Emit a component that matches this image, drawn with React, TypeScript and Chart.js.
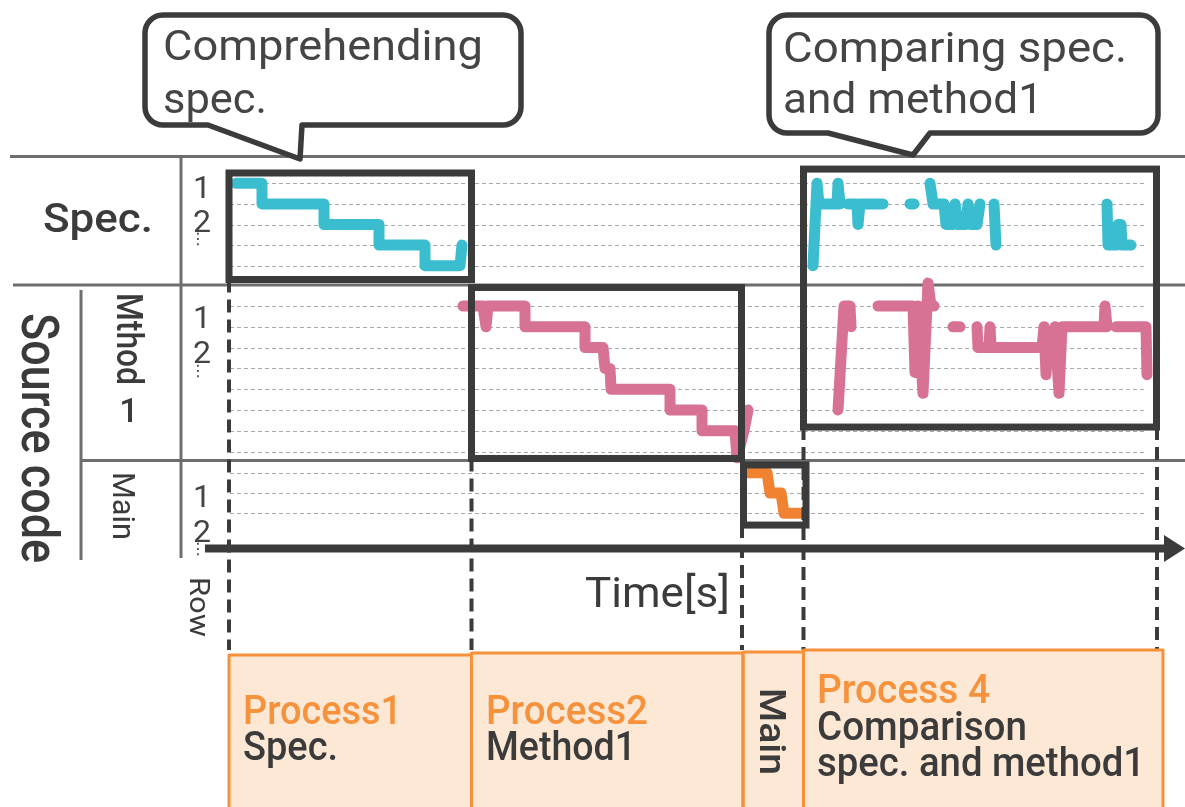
import React, { useEffect, useRef } from "react";
import { Chart, registerables } from "chart.js";

Chart.register(...registerables);

// ---------------- data (time in seconds, row number; null = no reading) ----------------
// Spec. document rows read over time
const specTime = [
  3.5, 16.5, 16.5, 47.5, 47.5, 75, 75, 98, 98, 115.5, 116.5,
  200,
  292, 294, 295, 304, 304.5, 305.5,
  307.5,
  309.5, 314, 314.5, 315.5, 327,
  334,
  340.5, 342.5,
  346,
  350.5, 352, 357.5, 358.5, 362, 363, 364.5, 368.5, 369.5, 371, 374, 375.5,
  379,
  382.5, 383.5,
  410,
  439, 439.5, 444, 444.5, 446, 446.5, 451,
];
const specRow = [
  1, 1, 2, 2, 3, 3, 4, 4, 5, 5, 4,
  null,
  5, 1, 2, 2, 1, 2,
  null,
  2, 2, 3, 2, 2,
  null,
  2, 2,
  null,
  1, 2, 2, 3, 3, 2, 3, 3, 2, 3, 3, 2,
  null,
  2, 4,
  null,
  2, 4, 4, 3, 3, 4, 4,
];

// Method1 source rows read over time
const methodTime = [
  117, 127, 128.5, 129.5, 148, 148, 178, 178, 187, 188, 190.5, 191, 220.5, 220.5, 236.5, 236.5, 253, 254, 257.5, 259.5,
  280,
  304.5, 307.5, 310.5, 311,
  318,
  324.5, 342, 343, 344.5, 347, 349.5, 351, 352.5,
  357,
  362, 365.5,
  370,
  374, 374.5, 380, 380.5, 381, 406.5, 407.5, 408.5, 409.5, 412, 413, 415, 416.5, 437.5, 438, 439,
  441,
  443.5, 458.5, 459,
];
const methodRow = [
  1, 1, 2, 1, 1, 2, 2, 3, 3, 4, 4, 5, 5, 6, 6, 7, 7, 8.3, 7, 6,
  null,
  6, 1, 1, 2,
  null,
  1, 1, 4.2, 1, 5.2, -0.1, 1, 1,
  null,
  2, 2,
  null,
  2, 3, 3, 2, 3, 3, 2, 4.3, 3, 3, 2, 5.2, 2, 2, 1, 2,
  null,
  2, 2, 4.3,
];

// Main source rows read over time
const mainTime = [259, 269, 270.5, 276, 277.5, 285.5];
const mainRow = [1, 1, 2, 2, 3, 3];

// row tick labels for each panel
const rowTickLabels = ["1", "2", "⋮"];
// number of dashed row lines per panel
const specRowCount = 5;
const methodRowCount = 8;
const mainRowCount = 3;

// process boundaries on the time axis (seconds)
const phaseBounds = [0, 121.25, 256.5, 287.25, 464];
const processTitles = ["Process1", "Process2", "", "Process 4"];
const processTexts = [["Spec."], ["Method1"], [], ["Comparison", "spec. and method1"]];

// ---------------- layout & style ----------------
const W = 1185;
const H = 807;
const AREA = { left: 229, right: 1150, top: 157, bottom: 548 };
const T_MAX = 460.5;
const PANELS: Record<string, { row1: number; pitch: number; rows: number }> = {
  ySpec: { row1: 183.3, pitch: 20.6, rows: specRowCount },
  yMethod: { row1: 306, pitch: 20.8, rows: methodRowCount },
  yMain: { row1: 472.7, pitch: 20.3, rows: mainRowCount },
};
const rangeFor = (p: { row1: number; pitch: number }) => ({
  min: 1 - (p.row1 - AREA.top) / p.pitch,
  max: 1 + (AREA.bottom - p.row1) / p.pitch,
});

const DARK = "#3b3b3b";
const GRAY = "#6e6e6e";
const CYAN = "#3bbdd0";
const PINK = "#d77294";
const ORANGE = "#f08231";
const ORANGE_TXT = "#f6923c";
const FONT = 'Roboto, "DejaVu Sans", sans-serif';

function text(
  ctx: CanvasRenderingContext2D,
  s: string,
  x: number,
  y: number,
  size: number,
  weight: number,
  color: string,
  width?: number,
  rot = 0,
  align: "left" | "center" = "left"
) {
  ctx.save();
  ctx.font = `${weight} ${size}px ${FONT}`;
  ctx.fillStyle = color;
  ctx.textBaseline = "alphabetic";
  ctx.textAlign = "left";
  ctx.translate(x, y);
  if (rot) ctx.rotate(rot);
  const m = ctx.measureText(s).width;
  const sx = width ? width / m : 1;
  ctx.scale(sx, 1);
  ctx.fillText(s, align === "center" ? -m / 2 : 0, 0);
  ctx.restore();
}

function line(ctx: CanvasRenderingContext2D, x0: number, y0: number, x1: number, y1: number) {
  ctx.beginPath();
  ctx.moveTo(x0, y0);
  ctx.lineTo(x1, y1);
  ctx.stroke();
}

function callout(
  ctx: CanvasRenderingContext2D,
  x0: number, y0: number, x1: number, y1: number, r: number,
  tailL: number, tipX: number, tipY: number, tailR: number
) {
  ctx.beginPath();
  ctx.moveTo(x0 + r, y0);
  ctx.lineTo(x1 - r, y0);
  ctx.arcTo(x1, y0, x1, y0 + r, r);
  ctx.lineTo(x1, y1 - r);
  ctx.arcTo(x1, y1, x1 - r, y1, r);
  ctx.lineTo(tailR, y1);
  ctx.lineTo(tipX, tipY);
  ctx.lineTo(tailL, y1);
  ctx.lineTo(x0 + r, y1);
  ctx.arcTo(x0, y1, x0, y1 - r, r);
  ctx.lineTo(x0, y0 + r);
  ctx.arcTo(x0, y0, x0 + r, y0, r);
  ctx.closePath();
  ctx.fillStyle = "#ffffff";
  ctx.fill();
  ctx.lineJoin = "round";
  ctx.strokeStyle = DARK;
  ctx.lineWidth = 5.5;
  ctx.stroke();
}

const decor = {
  id: "decor",
  beforeDatasetsDraw(chart: any) {
    const ctx: CanvasRenderingContext2D = chart.ctx;
    const x = chart.scales.x;
    ctx.save();
    // structural gray lines
    ctx.strokeStyle = GRAY;
    ctx.lineWidth = 3;
    line(ctx, 10, 156.5, W, 156.5);
    line(ctx, 13, 285, W, 285);
    line(ctx, 81, 460.5, W, 460.5);
    line(ctx, 181, 156, 181, 558);
    line(ctx, 81, 290, 81, 560);
    // dashed row lines
    ctx.strokeStyle = "#a9a9a9";
    ctx.lineWidth = 1;
    ctx.setLineDash([4, 3]);
    const gx0 = x.getPixelForValue(0.5);
    const gx1 = x.getPixelForValue(459);
    for (const id of Object.keys(PANELS)) {
      const s = chart.scales[id];
      for (let r = 1; r <= PANELS[id].rows; r++) {
        const y = Math.round(s.getPixelForValue(r)) + 0.5;
        line(ctx, gx0, y, gx1, y);
      }
    }
    ctx.restore();
  },
  afterDatasetsDraw(chart: any) {
    const ctx: CanvasRenderingContext2D = chart.ctx;
    const x = chart.scales.x;
    const sy = (id: string, r: number) => chart.scales[id].getPixelForValue(r);
    const px = (t: number) => x.getPixelForValue(t);
    ctx.save();

    // dashed phase separators
    ctx.strokeStyle = DARK;
    ctx.lineWidth = 4;
    ctx.setLineDash([13, 7]);
    const dashFrom = [sy("ySpec", 5.67), sy("yMethod", 8.33), sy("yMain", 3.58), sy("yMethod", 6.82), sy("yMethod", 6.82)];
    phaseBounds.forEach((t, i) => line(ctx, px(t), dashFrom[i], px(t), 650));
    ctx.setLineDash([]);

    // highlight boxes
    ctx.lineWidth = 7;
    ctx.strokeStyle = DARK;
    const boxes: [number, number, number, number][] = [
      [px(0), sy("ySpec", 0.5), px(121.25), sy("ySpec", 5.67)],
      [px(121.25), sy("yMethod", 0.11), px(256.25), sy("yMethod", 8.33)],
      [px(257.25), sy("yMain", 0.62), px(288.5), sy("yMain", 3.58)],
      [px(287.25), sy("ySpec", 0.31), px(463.75), sy("yMethod", 6.82)],
    ];
    for (const [a, b, c, d] of boxes) ctx.strokeRect(a, b, c - a, d - b);

    // time axis arrow
    ctx.lineWidth = 8;
    ctx.lineCap = "butt";
    line(ctx, 205, 548.5, 1168, 548.5);
    ctx.fillStyle = DARK;
    ctx.beginPath();
    ctx.moveTo(1164, 535);
    ctx.lineTo(1185, 548.5);
    ctx.lineTo(1164, 562);
    ctx.closePath();
    ctx.fill();

    // left labels
    text(ctx, "Spec.", 43, 232, 40, 500, DARK, 110);
    text(ctx, "Source code", 22, 313, 52, 500, DARK, 250, Math.PI / 2);
    text(ctx, "Mthod", 117, 293, 37, 500, DARK, 92, Math.PI / 2);
    text(ctx, "1", 129, 422, 34, 500, DARK, undefined, 0, "center");
    text(ctx, "Main", 113, 472, 31, 400, DARK, 68, Math.PI / 2);
    text(ctx, "Row", 190, 577, 28, 400, DARK, 60, Math.PI / 2);

    // row tick labels
    const tickBase: [number, number, number][] = [
      [198, 232, 240],
      [328, 363, 372],
      [507, 542, 550],
    ];
    for (const [b1, b2, dots] of tickBase) {
      text(ctx, rowTickLabels[0], 202, b1, 32, 400, "#444", undefined, 0, "center");
      text(ctx, rowTickLabels[1], 202, b2, 32, 400, "#444", undefined, 0, "center");
      ctx.save();
      ctx.font = `16px "DejaVu Sans", sans-serif`;
      ctx.fillStyle = "#444";
      ctx.textAlign = "center";
      ctx.textBaseline = "middle";
      ctx.fillText(rowTickLabels[2], 198, dots);
      ctx.restore();
    }

    // axis title
    text(ctx, "Time[s]", 585, 607, 42, 400, DARK, 145);

    // callouts
    callout(ctx, 145, 15, 521, 125, 18, 208, 300, 159, 302);
    text(ctx, "Comprehending", 163, 60, 42, 400, "#454545", 320);
    text(ctx, "spec.", 163, 113, 42, 400, "#454545", 104);
    callout(ctx, 769, 15, 1158, 133, 18, 828, 913, 155, 930);
    text(ctx, "Comparing spec.", 783, 62, 42, 400, "#454545", 344);
    text(ctx, "and method1", 783, 113, 42, 400, "#454545", 260);

    // process boxes
    const pTops = [655, 653, 652, 650];
    const pEdges = [px(0), px(121.25), px(257), px(287.25), px(467)];
    for (let i = 0; i < 4; i++) {
      ctx.fillStyle = "#fde7d5";
      ctx.fillRect(pEdges[i], pTops[i], pEdges[i + 1] - pEdges[i], H - pTops[i] + 5);
    }
    ctx.strokeStyle = "#f7923a";
    ctx.lineWidth = 3;
    for (let i = 0; i < 4; i++) {
      ctx.strokeRect(pEdges[i], pTops[i], pEdges[i + 1] - pEdges[i], H - pTops[i] + 5);
    }
    text(ctx, processTitles[0], 243, 724, 40, 500, ORANGE_TXT, 159);
    text(ctx, processTexts[0][0], 243, 760, 40, 500, DARK, 95);
    text(ctx, processTitles[1], 486, 724, 40, 500, ORANGE_TXT, 162);
    text(ctx, processTexts[1][0], 486, 760, 40, 500, DARK, 150);
    text(ctx, "Main", 760, 688, 36, 500, DARK, 87, Math.PI / 2);
    text(ctx, processTitles[3], 817, 703, 40, 500, ORANGE_TXT, 173);
    text(ctx, processTexts[3][0], 817, 740, 40, 500, DARK, 210);
    text(ctx, processTexts[3][1], 817, 776, 40, 500, DARK, 328);

    ctx.restore();
  },
};

const pts = (t: number[], r: (number | null)[]) => t.map((v, i) => ({ x: v, y: r[i] }));

export default function App() {
  const ref = useRef<HTMLCanvasElement | null>(null);
  useEffect(() => {
    if (!ref.current) return;
    const common = {
      borderWidth: 11,
      borderCapStyle: "round" as const,
      borderJoinStyle: "round" as const,
      pointRadius: 0,
      tension: 0,
      spanGaps: false,
      clip: false as const,
    };
    const chart = new Chart(ref.current, {
      type: "line",
      data: {
        datasets: [
          { ...common, label: "Spec.", data: pts(specTime, specRow) as any, borderColor: CYAN, yAxisID: "ySpec" },
          { ...common, label: "Method1", data: pts(methodTime, methodRow) as any, borderColor: PINK, yAxisID: "yMethod" },
          { ...common, label: "Main", data: pts(mainTime, mainRow) as any, borderColor: ORANGE, yAxisID: "yMain" },
        ],
      },
      options: {
        responsive: false,
        animation: false,
        events: [],
        layout: {
          padding: { left: AREA.left, right: W - AREA.right, top: AREA.top, bottom: H - AREA.bottom },
        },
        plugins: { legend: { display: false }, tooltip: { enabled: false }, title: { display: false } },
        scales: {
          x: { type: "linear", min: 0, max: T_MAX, display: false },
          ySpec: { type: "linear", reverse: true, display: false, ...rangeFor(PANELS.ySpec) },
          yMethod: { type: "linear", reverse: true, display: false, ...rangeFor(PANELS.yMethod) },
          yMain: { type: "linear", reverse: true, display: false, ...rangeFor(PANELS.yMain) },
        },
      },
      plugins: [decor],
    });
    return () => chart.destroy();
  }, []);
  return (
    <div style={{ position: "fixed", left: 0, top: 0, width: W, height: H, background: "#fff" }}>
      <canvas ref={ref} width={W} height={H} style={{ display: "block", width: W, height: H }} />
    </div>
  );
}
